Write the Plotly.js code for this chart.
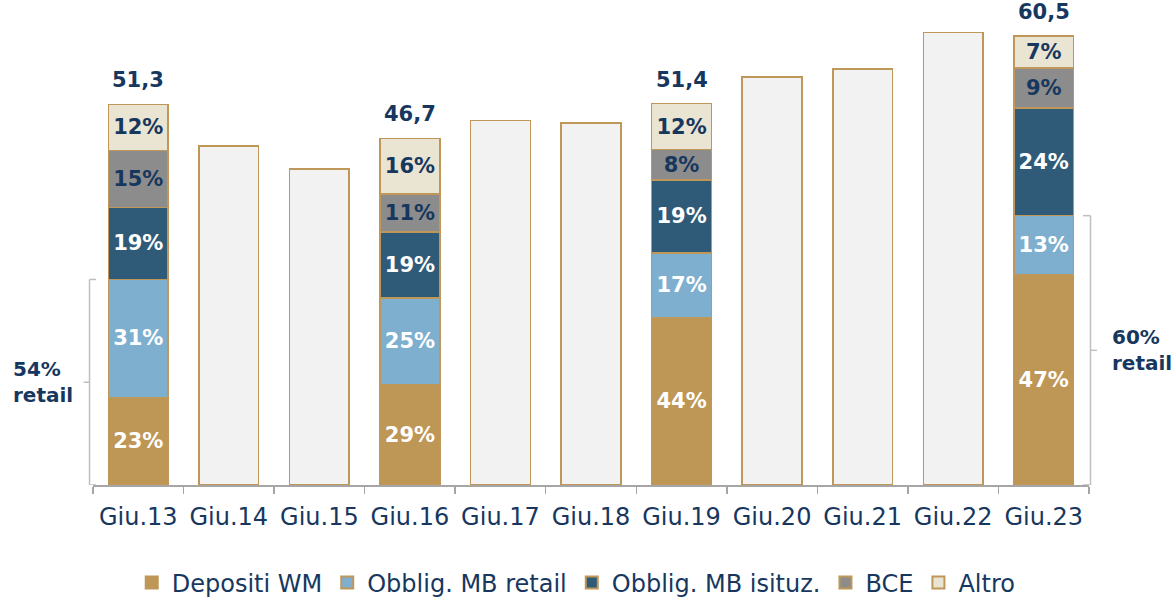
<!DOCTYPE html>
<html>
<head>
<meta charset="utf-8">
<script src="https://cdn.plot.ly/plotly-3.0.1.min.js"></script>
<style>html,body{margin:0;padding:0;background:#fff;}#chart{width:1176px;height:601px;}</style>
</head>
<body>
<div id="chart"></div>
<script>
// ---- data ----
const categories = ["Giu.13","Giu.14","Giu.15","Giu.16","Giu.17","Giu.18","Giu.19","Giu.20","Giu.21","Giu.22","Giu.23"];
const totalLabels = ["51,3", null, null, "46,7", null, null, "51,4", null, null, null, "60,5"];
const totals      = [51.3, 45.7, 42.6, 46.7, 49.1, 48.8, 51.4, 55.0, 56.1, 61.0, 60.5];

// segment values (bn) for the years with breakdown
const depositiWM   = [11.8, null, null, 13.5, null, null, 22.6, null, null, null, 28.4];
const obbRetail    = [15.9, null, null, 11.7, null, null,  8.7, null, null, null,  7.9];
const obbIstituz   = [ 9.7, null, null,  8.9, null, null,  9.8, null, null, null, 14.5];
const bce          = [ 7.7, null, null,  5.1, null, null,  4.1, null, null, null,  5.4];
const altro        = [ 6.2, null, null,  7.5, null, null,  6.2, null, null, null,  4.3];

const pctDepositi  = ["23%", "", "", "29%", "", "", "44%", "", "", "", "47%"];
const pctRetail    = ["31%", "", "", "25%", "", "", "17%", "", "", "", "13%"];
const pctIstituz   = ["19%", "", "", "19%", "", "", "19%", "", "", "", "24%"];
const pctBce       = ["15%", "", "", "11%", "", "", "8%",  "", "", "", "9%"];
const pctAltro     = ["12%", "", "", "16%", "", "", "12%", "", "", "", "7%"];

// total-only bars for the other years
const onlyTotals   = [null, 45.7, 42.6, null, 49.1, 48.8, null, 55.0, 56.1, 61.0, null];

const seriesNames  = ["Depositi WM", "Obblig. MB retail", "Obblig. MB isituz.", "BCE", "Altro"];
const retailLabels = ["54%<br>retail", "60%<br>retail"];

// ---- styling ----
const NAVY = "#17375E";
const TAN = "#BF9859";
const FONT = "'DejaVu Sans', sans-serif";
const colors = ["#BE9656", "#7FAFCF", "#2F5B79", "#8C8C8C", "#EAE4D3"];
const textColors = ["#FFFFFF", "#FFFFFF", "#FFFFFF", NAVY, NAVY];
const segs = [depositiWM, obbRetail, obbIstituz, bce, altro];
const pcts = [pctDepositi, pctRetail, pctIstituz, pctBce, pctAltro];

const traces = segs.map((vals, i) => ({
  type: "bar",
  name: seriesNames[i],
  x: categories,
  y: vals,
  text: pcts[i],
  textposition: "inside",
  insidetextanchor: "middle",
  textangle: 0,
  constraintext: "none",
  textfont: {family: FONT, size: 21, color: textColors[i], weight: "bold"},
  marker: {color: colors[i], line: {color: TAN, width: 1.5}},
  width: 0.66,
  hoverinfo: "skip"
}));

traces.push({
  type: "bar",
  name: "Totale",
  showlegend: false,
  x: categories,
  y: onlyTotals,
  marker: {color: "#F2F2F2", line: {color: TAN, width: 1.5}},
  width: 0.66,
  hoverinfo: "skip"
});

const annotations = [];
categories.forEach((c, i) => {
  if (totalLabels[i]) {
    annotations.push({
      x: c, y: totals[i], xref: "x", yref: "y",
      text: "<b>" + totalLabels[i] + "</b>",
      showarrow: false, yanchor: "bottom", yshift: 10,
      font: {family: FONT, size: 21, color: NAVY}
    });
  }
});
const retailLeft = depositiWM[0] + obbRetail[0];
const retailRight = depositiWM[10] + obbRetail[10];
annotations.push({
  x: -0.082, xref: "paper", y: retailLeft / 2, yref: "y",
  text: "<b>" + retailLabels[0] + "</b>", showarrow: false,
  xanchor: "left", yanchor: "middle", align: "left",
  font: {family: FONT, size: 20, color: NAVY}
});
annotations.push({
  x: 1.021, xref: "paper", y: retailRight / 2, yref: "y",
  text: "<b>" + retailLabels[1] + "</b>", showarrow: false,
  xanchor: "left", yanchor: "middle", align: "left",
  font: {family: FONT, size: 20, color: NAVY}
});

const BR = "#BFBFBF";
function line(x0, y0, x1, y1) {
  return {type: "line", xref: "paper", yref: "y", x0, y0, x1, y1,
          line: {color: BR, width: 1.5}};
}
const shapes = [
  // left bracket
  line(-0.0035, 0, -0.0035, retailLeft),
  line(-0.0035, retailLeft, 0.003, retailLeft),
  line(-0.0035, 0, 0.003, 0),
  line(-0.0035, retailLeft / 2, -0.0095, retailLeft / 2),
  // right bracket
  line(1.0015, 0, 1.0015, retailRight),
  line(1.0015, retailRight, 0.994, retailRight),
  line(1.0015, 0, 0.994, 0),
  line(1.0015, retailRight / 2, 1.008, retailRight / 2)
];

const layout = {
  width: 1176, height: 601,
  margin: {l: 93, r: 87, t: 20, b: 116, autoexpand: false},
  paper_bgcolor: "#FFFFFF", plot_bgcolor: "#FFFFFF",
  barmode: "stack",
  showlegend: true,
  legend: {
    orientation: "h", xref: "container", x: 0.49, xanchor: "center",
    yref: "container", y: 0.03, yanchor: "middle",
    font: {family: FONT, size: 24, color: NAVY},
    traceorder: "normal", itemsizing: "constant", itemwidth: 30
  },
  xaxis: {
    type: "category",
    range: [-0.5, 10.5],
    showline: true, linecolor: "#A6A6A6", linewidth: 1.5,
    ticks: "outside", tickson: "boundaries", ticklen: 7, tickcolor: "#A6A6A6", tickwidth: 1.5,
    tickfont: {family: FONT, size: 24, color: NAVY}, ticklabelstandoff: 10, tickangle: 0,
    showgrid: false, zeroline: false, fixedrange: true, automargin: false
  },
  yaxis: {
    range: [0, 62.67], visible: false, showgrid: false, zeroline: false, fixedrange: true
  },
  annotations: annotations,
  shapes: shapes
};

Plotly.newPlot("chart", traces, layout, {displayModeBar: false, staticPlot: true});
</script>
</body>
</html>
